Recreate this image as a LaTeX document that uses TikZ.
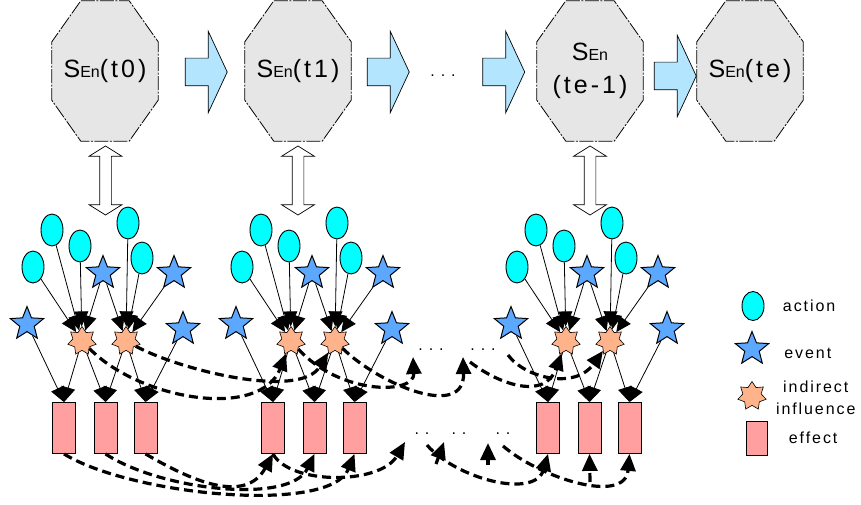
\documentclass[tikz,border=0pt]{standalone}
\usepackage{fontspec}
\setmainfont{Liberation Sans}
\newfontfamily\spaced[LetterSpace=12]{Liberation Sans}
\usepackage{xcolor}
\usetikzlibrary{
  positioning, arrows.meta, shapes.geometric, shapes.arrows, calc, backgrounds
}
\definecolor{actcyan}{HTML}{00FFFF}
\definecolor{evblue}{HTML}{5CA8FF}
\definecolor{indsalmon}{HTML}{FFB38A}
\definecolor{effpink}{HTML}{FF9F9F}
\definecolor{stategray}{HTML}{E6E6E6}
\definecolor{flowblue}{HTML}{B3E5FF}

% big S with the small En beside it
\newcommand{\Sen}{S{\fontsize{16}{16}\selectfont En}}

\begin{document}
\begin{tikzpicture}[x=1pt, y=-1pt,
  state/.style={
    rectangle, minimum width=106pt, minimum height=140pt, inner sep=0pt,
    align=center, font=\fontsize{25}{33}\selectfont
  },
  stateline/.style={
    draw=black, line width=0.8pt, fill=stategray,
    dash pattern=on 14pt off 1.5pt on 2pt off 1.5pt
  },
  flow/.style={
    single arrow, draw=black, line width=0.7pt, fill=flowblue,
    minimum height=42pt, inner xsep=0pt, inner ysep=13.5pt,
    single arrow head extend=27pt, single arrow tip angle=130
  },
  link/.style={
    double arrow, draw=black, line width=0.7pt, fill=white, rotate=90,
    minimum height=69pt, inner xsep=0pt, inner ysep=5.5pt,
    double arrow head extend=10.5pt, double arrow tip angle=116
  },
  action/.style={ellipse, draw=black, line width=0.9pt, fill=actcyan,
    minimum width=22pt, minimum height=32pt, inner sep=0pt},
  event/.style={star, star points=5, star point ratio=2.3, draw=black,
    line width=1pt, fill=evblue, minimum size=35pt, inner sep=0pt},
  influence/.style={star, star points=7, star point ratio=1.55, draw=black,
    line width=0.6pt, fill=indsalmon, minimum size=29pt, inner sep=0pt},
  effect/.style={rectangle, draw=black, line width=0.8pt, fill=effpink,
    minimum width=23pt, minimum height=51pt, inner sep=0pt},
  feed/.style={-{Triangle[length=15pt, width=14pt]}, line width=0.8pt},
  carry/.style={-{Triangle[length=17pt, width=15pt]}, line width=3.2pt,
    dash pattern=on 9pt off 5pt},
  key/.style={font=\fontsize{16}{22}\selectfont\spaced, align=center},
  gap/.style={font=\fontsize{16}{16}\selectfont, inner sep=0pt},
]
\useasboundingbox (0,0) rectangle (861,505);

% States
\node[state] (st0) at (105,71) {\Sen\spaced(t0)};
\node[state] (st1) at (298,71) {\Sen\spaced(t1)};
\node[state] (st2) at (590,71) {\Sen\\\spaced(te-1)};
\node[state] (st3) at (750,71) {\Sen\spaced(te)};
\begin{scope}[on background layer]
  \foreach \s in {st0,st1,st2,st3}
    \draw[stateline] ($(\s.north west)+(29,0)$) -- ($(\s.north east)+(-29,0)$)
      -- ($(\s.north east)+(0,41)$) -- ($(\s.south east)+(0,-41)$)
      -- ($(\s.south east)+(-29,0)$) -- ($(\s.south west)+(29,0)$)
      -- ($(\s.south west)+(0,-41)$) -- ($(\s.north west)+(0,41)$) -- cycle;
\end{scope}

% Transitions
\node[flow] (fl0) at (203,72) {};
\node[flow] (fl1) at (385,72) {};
\node[gap] (skip) at (443,76) {. . .};
\node[flow] (fl2) at (500.5,72) {};
\node[flow] (fl3) at (672,76) {};

% State <-> cluster links
\node[link] (ln0) at (105.5,180.5) {};
\node[link] (ln1) at (298,180.5) {};
\node[link] (ln2) at (590,180.5) {};

% Clusters
\foreach \dx [count=\c] in {0,209,484} {
  \begin{scope}[xshift=\dx]
    \node[action] (act\c-1) at (33,267) {};
    \node[action] (act\c-2) at (52,230) {};
    \node[action] (act\c-3) at (80,246) {};
    \node[action] (act\c-4) at (128,223) {};
    \node[action] (act\c-5) at (142,258) {};
    \node[event] (ev\c-1) at (103,273) {};
    \node[event] (ev\c-2) at (174,273) {};
    \node[event] (ev\c-3) at (27,324) {};
    \node[event] (ev\c-4) at (183,329) {};
    \node[influence] (ind\c-1) at (82,341) {};
    \node[influence] (ind\c-2) at (126,341) {};
    \node[effect] (eff\c-1) at (64,428) {};
    \node[effect] (eff\c-2) at (105.5,428) {};
    \node[effect] (eff\c-3) at (145.5,428) {};
  \end{scope}
  \foreach \a/\b in {act\c-1/ind\c-1, act\c-2/ind\c-1, act\c-3/ind\c-1,
      ev\c-1/ind\c-1, ev\c-1/ind\c-2, act\c-4/ind\c-2, act\c-5/ind\c-2,
      ev\c-2/ind\c-2}
    \draw[feed] (\a) -- (\b);
  \foreach \a/\b in {ev\c-3/eff\c-1, ind\c-1/eff\c-1, ind\c-1/eff\c-2,
      ind\c-2/eff\c-2, ind\c-2/eff\c-3, ev\c-4/eff\c-3}
    \draw[feed] (\a) -- (\b.north);
}

% Gaps between cluster 2 and 3
\node[gap] (up-a) at (431,350) {. . .};
\node[gap] (up-b) at (483,350) {. . .};
\node[gap] (lo-a) at (422,434) {. .};
\node[gap] (lo-b) at (459,434) {. .};
\node[gap] (lo-c) at (503,434) {. .};
\coordinate (up-in-a) at (413,357);
\coordinate (up-in-b) at (463,357);
\coordinate (up-out-a) at (470,362);
\coordinate (up-out-b) at (508,355);
\coordinate (lo-in-a) at (405,442);
\coordinate (lo-out-a) at (427,445);
\coordinate (lo-out-c) at (503,446);
\coordinate (stub-a) at (436,464);
\coordinate (stub-a-end) at (444,442);
\coordinate (stub-b) at (488,465);
\coordinate (stub-b-end) at (488,443);
\coordinate (stub-c) at (590,482);

% Legend
\node[action, minimum height=29pt] (key-act) at (753,306) {};
\node[event] (key-ev) at (752,349) {};
\node[influence] (key-ind) at (752,396) {};
\node[effect, minimum width=21pt, minimum height=34pt] (key-eff) at (756.5,438) {};
\node[key, right=15pt of key-act] {action};
\node[key, right=18pt of key-ev, yshift=-4pt] {event};
\node[key, right=9pt of key-ind, yshift=-2pt] {indirect\\influence};
\node[key, right=18pt of key-eff] {effect};

% Influence carried between clusters
\draw[carry] (ind1-1) .. controls (140,400) and (260,420) .. (ind2-1);
\draw[carry] (ind1-2) .. controls (180,370) and (300,400) .. (ind2-2);
\draw[carry] (ind2-1) .. controls (340,395) and (415,395) .. (up-in-a);
\draw[carry] (ind2-2) .. controls (380,385) and (465,420) .. (up-in-b);
\draw[carry] (up-out-a) .. controls (500,385) and (545,400) .. (ind3-1);
\draw[carry] (up-out-b) .. controls (525,378) and (575,390) .. (ind3-2);

% Effects carried between clusters
\draw[carry] (eff1-3.south) .. controls (190,480) and (245,505) .. (eff2-1.south);
\draw[carry] (eff1-2.south) .. controls (160,490) and (290,505) .. (eff2-2.south);
\draw[carry] (eff1-1.south) .. controls (130,495) and (330,515) .. (eff2-3.south);
\draw[carry] (eff2-1.south) .. controls (290,485) and (380,485) .. (lo-in-a);
\draw[carry] (lo-out-a) .. controls (455,478) and (535,500) .. (eff3-1.south);
\draw[carry] (stub-a) -- (stub-a-end);
\draw[carry] (stub-b) -- (stub-b-end);
\draw[carry] (lo-out-c) .. controls (540,478) and (625,505) .. (eff3-3.south);
\draw[carry] (stub-c) -- (eff3-2.south);

\end{tikzpicture}
\end{document}
